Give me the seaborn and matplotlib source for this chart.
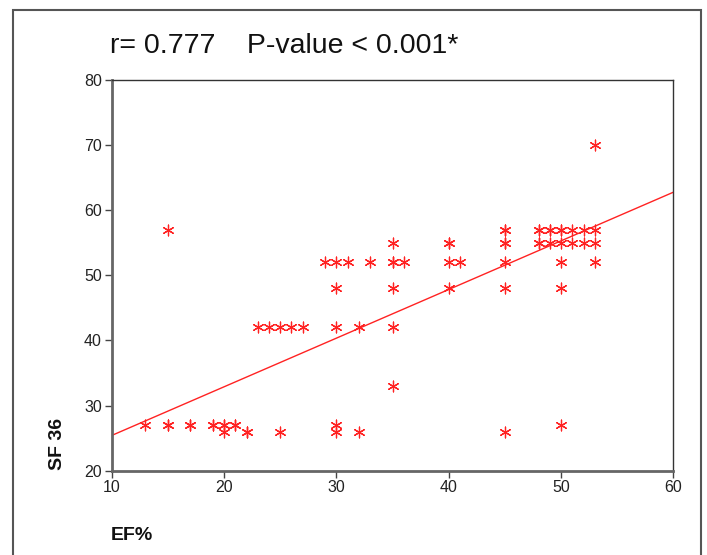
import matplotlib
matplotlib.use("Agg")
import matplotlib.pyplot as plt
from matplotlib.patches import Rectangle
import seaborn as sns
import pandas as pd

# visible observations (EF%, SF 36)
ef = [13, 15, 15, 17, 19, 20, 20, 21, 22, 25,
      23, 24, 25, 26, 27,
      29, 30, 30, 30, 30, 30, 31, 32, 32, 33,
      35, 35, 35, 35, 35, 36,
      40, 40, 40, 41,
      45, 45, 45, 45, 45,
      48, 48, 49, 49,
      50, 50, 50, 50, 50,
      51, 51, 52, 52,
      53, 53, 53, 53]
sf36 = [27, 57, 27, 27, 27, 27, 26, 27, 26, 26,
        42, 42, 42, 42, 42,
        52, 52, 48, 42, 27, 26, 52, 42, 26, 52,
        55, 52, 48, 42, 33, 52,
        55, 52, 48, 52,
        57, 55, 52, 48, 26,
        57, 55, 57, 55,
        57, 55, 52, 48, 27,
        57, 55, 57, 55,
        70, 57, 55, 52]
# overlapping observations hidden under visible markers (estimated from the fit line)
ef_overlap = [15, 17, 19, 20, 21, 22, 45, 48, 49, 50, 45, 48, 35, 40]
sf36_overlap = [27, 27, 27, 27, 27, 26, 57, 57, 57, 57, 55, 55, 52, 55]

x_ticks = [10, 20, 30, 40, 50, 60]
y_ticks = [20, 30, 40, 50, 60, 70, 80]
title_text = "r= 0.777    P-value < 0.001*"

df = pd.DataFrame({"EF%": ef + ef_overlap, "SF 36": sf36 + sf36_overlap})

sns.set_style("white")
plt.rcParams['font.family'] = ['Liberation Sans', 'DejaVu Sans']

fig = plt.figure(figsize=(7.07, 5.55), dpi=100)
ax = fig.add_axes([0.158, 0.152, 0.7946, 0.704])
ax.set_xlim(10, 60)
ax.set_ylim(20, 80)

sns.regplot(data=df, x="EF%", y="SF 36", ax=ax, ci=None, truncate=False,
            marker=(6, 2, 0),
            scatter_kws=dict(s=60, color="#ff2222", linewidths=0.9, alpha=1.0),
            line_kws=dict(color="#ff2222", linewidth=1.0))

ax.set_xlim(10, 60)
ax.set_ylim(20, 80)
ax.set_xticks(x_ticks)
ax.set_yticks(y_ticks)
ax.set_xlabel("")
ax.set_ylabel("")
ax.tick_params(axis="both", which="both", direction="out", length=5, width=1,
               color="#444444", labelsize=11.5, labelcolor="#222222", pad=2,
               left=True, bottom=True)

for side in ["left", "bottom"]:
    ax.spines[side].set_color("#666666")
    ax.spines[side].set_linewidth(2.0)
for side in ["top", "right"]:
    ax.spines[side].set_color("#333333")
    ax.spines[side].set_linewidth(1.0)
    ax.spines[side].set_visible(True)

fig.text(110 / 707, 1 - 46 / 555, title_text, fontsize=20.5, ha="left", va="center",
         color="#111111")
fig.text(58 / 707, 1 - 444 / 555, "SF 36", fontsize=14, fontweight="bold", rotation=90,
         ha="center", va="center", color="#111111")
fig.text(111 / 707, 1 - 535 / 555, "EF%", fontsize=14, fontweight="bold",
         ha="left", va="center", color="#111111")

frame = Rectangle((13 / 707, -0.05), (701 - 13) / 707, 1.05 - 10 / 555,
                  transform=fig.transFigure, fill=False, edgecolor="#555555",
                  linewidth=1.5, zorder=0)
fig.patches.append(frame)

fig.savefig("out.png", dpi=100)
